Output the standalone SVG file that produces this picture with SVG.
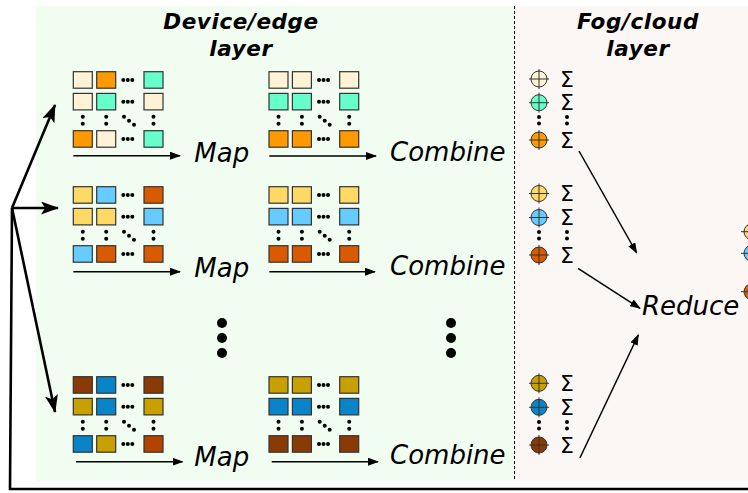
<svg xmlns="http://www.w3.org/2000/svg" xmlns:xlink="http://www.w3.org/1999/xlink" width="748" height="493" viewBox="0 0 748 493">
  <style>
    .title { font-family: "DejaVu Sans", Verdana, sans-serif; font-weight: bold; font-style: italic; font-size: 21.5px; letter-spacing: 0.6px; fill: #000; text-anchor: middle; }
    .op { font-family: "DejaVu Sans", Verdana, sans-serif; font-style: italic; font-size: 26px; fill: #000; }
    .sig { font-family: "DejaVu Sans", Verdana, sans-serif; font-size: 22px; fill: #000; text-anchor: middle; }
    .cell { stroke: #333; stroke-width: 1.2; }
    .cr { fill: #fff2d5; } .or { fill: #ff9900; } .tl { fill: #66ffcc; }
    .ye { fill: #ffd966; } .bl { fill: #66ccff; } .do { fill: #d95a00; }
    .br { fill: #8a3a05; } .db { fill: #0a84c8; } .go { fill: #c8a000; } .ru { fill: #b34400; }
    .thin { stroke: #000; stroke-width: 1.5; fill: none; }
    .thick { stroke: #000; stroke-width: 2.6; fill: none; }
    .cross { stroke: #333; stroke-width: 1; }
    .ring { stroke: #333; stroke-width: 1; }
  </style>
  <defs>
    <marker id="ah" markerUnits="userSpaceOnUse" markerWidth="11" markerHeight="8" refX="10" refY="4" orient="auto">
      <path d="M0,0 L11,4 L0,8 z" fill="#000"/>
    </marker>
    <marker id="ahBig" markerUnits="userSpaceOnUse" markerWidth="18" markerHeight="13" refX="17" refY="6.5" orient="auto">
      <path d="M0,0 L18,6.5 L0,13 L4,6.5 z" fill="#000"/>
    </marker>
    <!-- dot pattern shared by every grid -->
    <g id="gridDots" fill="#000">
      <circle cx="50" cy="8.3" r="2"/><circle cx="54.5" cy="8.3" r="2"/><circle cx="59" cy="8.3" r="2"/>
      <circle cx="50" cy="30" r="2"/><circle cx="54.5" cy="30" r="2"/><circle cx="59" cy="30" r="2"/>
      <circle cx="50" cy="67.3" r="2"/><circle cx="54.5" cy="67.3" r="2"/><circle cx="59" cy="67.3" r="2"/>
      <circle cx="9.5" cy="45" r="2"/><circle cx="9.5" cy="52" r="2"/>
      <circle cx="32.9" cy="45" r="2"/><circle cx="32.9" cy="52" r="2"/>
      <circle cx="80.2" cy="45" r="2"/><circle cx="80.2" cy="52" r="2"/>
      <circle cx="50.7" cy="45" r="2"/><circle cx="55.7" cy="49" r="2"/><circle cx="60.7" cy="53" r="2"/>
    </g>
    <g id="vdots" fill="#000">
      <circle cx="0" cy="0" r="2"/><circle cx="0" cy="6.6" r="2"/>
    </g>
  </defs>

  <!-- layer panels -->
  <rect x="36" y="6" width="478" height="475" fill="#f0fdf0"/>
  <rect x="514" y="6" width="234" height="475" fill="#faf7f4"/>
  <line x1="514.5" y1="6" x2="514.5" y2="481" stroke="#000" stroke-width="1" stroke-dasharray="3,2"/>

  <g id="titles">
    <text class="title" x="241" y="29">Device/edge</text>
    <text class="title" x="241" y="56">layer</text>
    <text class="title" x="638" y="29">Fog/cloud</text>
    <text class="title" x="638" y="56">layer</text>
  </g>

  <!-- device layer: map grids -->
  <g id="map1" transform="translate(73.3,71.7)">
    <rect class="cell cr" x="0" y="0" width="19" height="16.5"/><rect class="cell or" x="23.4" y="0" width="19" height="16.5"/><rect class="cell tl" x="70.7" y="0" width="19" height="16.5"/>
    <rect class="cell cr" x="0" y="21.7" width="19" height="16.5"/><rect class="cell tl" x="23.4" y="21.7" width="19" height="16.5"/><rect class="cell cr" x="70.7" y="21.7" width="19" height="16.5"/>
    <rect class="cell or" x="0" y="59" width="19" height="16.5"/><rect class="cell cr" x="23.4" y="59" width="19" height="16.5"/><rect class="cell tl" x="70.7" y="59" width="19" height="16.5"/>
    <use xlink:href="#gridDots"/>
    <text class="op" x="121" y="90.5">Map</text>
  </g>
  <g id="map2" transform="translate(73.3,186.7)">
    <rect class="cell ye" x="0" y="0" width="19" height="16.5"/><rect class="cell bl" x="23.4" y="0" width="19" height="16.5"/><rect class="cell do" x="70.7" y="0" width="19" height="16.5"/>
    <rect class="cell ye" x="0" y="21.7" width="19" height="16.5"/><rect class="cell ye" x="23.4" y="21.7" width="19" height="16.5"/><rect class="cell bl" x="70.7" y="21.7" width="19" height="16.5"/>
    <rect class="cell bl" x="0" y="59" width="19" height="16.5"/><rect class="cell do" x="23.4" y="59" width="19" height="16.5"/><rect class="cell do" x="70.7" y="59" width="19" height="16.5"/>
    <use xlink:href="#gridDots"/>
    <text class="op" x="121" y="90">Map</text>
  </g>
  <g id="map3" transform="translate(73.3,376.7)">
    <rect class="cell br" x="0" y="0" width="19" height="16.5"/><rect class="cell db" x="23.4" y="0" width="19" height="16.5"/><rect class="cell br" x="70.7" y="0" width="19" height="16.5"/>
    <rect class="cell go" x="0" y="21.7" width="19" height="16.5"/><rect class="cell db" x="23.4" y="21.7" width="19" height="16.5"/><rect class="cell go" x="70.7" y="21.7" width="19" height="16.5"/>
    <rect class="cell db" x="0" y="59" width="19" height="16.5"/><rect class="cell go" x="23.4" y="59" width="19" height="16.5"/><rect class="cell ru" x="70.7" y="59" width="19" height="16.5"/>
    <use xlink:href="#gridDots"/>
    <text class="op" x="121" y="89">Map</text>
  </g>

  <!-- device layer: combine grids -->
  <g id="combine1" transform="translate(269,71.7)">
    <rect class="cell cr" x="0" y="0" width="19" height="16.5"/><rect class="cell cr" x="23.4" y="0" width="19" height="16.5"/><rect class="cell cr" x="70.7" y="0" width="19" height="16.5"/>
    <rect class="cell tl" x="0" y="21.7" width="19" height="16.5"/><rect class="cell tl" x="23.4" y="21.7" width="19" height="16.5"/><rect class="cell tl" x="70.7" y="21.7" width="19" height="16.5"/>
    <rect class="cell or" x="0" y="59" width="19" height="16.5"/><rect class="cell or" x="23.4" y="59" width="19" height="16.5"/><rect class="cell or" x="70.7" y="59" width="19" height="16.5"/>
    <use xlink:href="#gridDots"/>
    <text class="op" x="121" y="89">Combine</text>
  </g>
  <g id="combine2" transform="translate(269,186.7)">
    <rect class="cell ye" x="0" y="0" width="19" height="16.5"/><rect class="cell ye" x="23.4" y="0" width="19" height="16.5"/><rect class="cell ye" x="70.7" y="0" width="19" height="16.5"/>
    <rect class="cell bl" x="0" y="21.7" width="19" height="16.5"/><rect class="cell bl" x="23.4" y="21.7" width="19" height="16.5"/><rect class="cell bl" x="70.7" y="21.7" width="19" height="16.5"/>
    <rect class="cell do" x="0" y="59" width="19" height="16.5"/><rect class="cell do" x="23.4" y="59" width="19" height="16.5"/><rect class="cell do" x="70.7" y="59" width="19" height="16.5"/>
    <use xlink:href="#gridDots"/>
    <text class="op" x="121" y="88">Combine</text>
  </g>
  <g id="combine3" transform="translate(269,376.7)">
    <rect class="cell go" x="0" y="0" width="19" height="16.5"/><rect class="cell go" x="23.4" y="0" width="19" height="16.5"/><rect class="cell go" x="70.7" y="0" width="19" height="16.5"/>
    <rect class="cell db" x="0" y="21.7" width="19" height="16.5"/><rect class="cell db" x="23.4" y="21.7" width="19" height="16.5"/><rect class="cell db" x="70.7" y="21.7" width="19" height="16.5"/>
    <rect class="cell br" x="0" y="59" width="19" height="16.5"/><rect class="cell br" x="23.4" y="59" width="19" height="16.5"/><rect class="cell br" x="70.7" y="59" width="19" height="16.5"/>
    <use xlink:href="#gridDots"/>
    <text class="op" x="121" y="87">Combine</text>
  </g>

  <!-- ellipsis between device rows -->
  <g id="ellipsis" fill="#000">
    <circle cx="222" cy="323" r="5"/><circle cx="222" cy="338" r="5"/><circle cx="222" cy="353" r="5"/>
    <circle cx="451" cy="323" r="5"/><circle cx="451" cy="338" r="5"/><circle cx="451" cy="353" r="5"/>
  </g>

  <!-- fog layer: summation nodes -->
  <g id="sum1">
    <circle class="ring cr" cx="539" cy="79" r="8"/><path class="cross" d="M529,79 H549 M539,69 V89"/>
    <circle class="ring tl" cx="539" cy="102.7" r="8"/><path class="cross" d="M529,102.7 H549 M539,92.7 V112.7"/>
    <circle class="ring or" cx="539" cy="140" r="8"/><path class="cross" d="M529,140 H549 M539,130 V150"/>
    <use xlink:href="#vdots" x="539" y="117"/><use xlink:href="#vdots" x="567" y="117"/>
    <text class="sig" x="567" y="86.5">Σ</text><text class="sig" x="567" y="110">Σ</text><text class="sig" x="567" y="147.5">Σ</text>
  </g>
  <g id="sum2">
    <circle class="ring ye" cx="539" cy="193.5" r="8"/><path class="cross" d="M529,193.5 H549 M539,183.5 V203.5"/>
    <circle class="ring bl" cx="539" cy="217.5" r="8"/><path class="cross" d="M529,217.5 H549 M539,207.5 V227.5"/>
    <circle class="ring do" cx="539" cy="255" r="8"/><path class="cross" d="M529,255 H549 M539,245 V265"/>
    <use xlink:href="#vdots" x="539" y="232"/><use xlink:href="#vdots" x="567" y="232"/>
    <text class="sig" x="567" y="201">Σ</text><text class="sig" x="567" y="225">Σ</text><text class="sig" x="567" y="262.5">Σ</text>
  </g>
  <g id="sum3">
    <circle class="ring go" cx="539" cy="383.3" r="8"/><path class="cross" d="M529,383.3 H549 M539,373.3 V393.3"/>
    <circle class="ring db" cx="539" cy="407.3" r="8"/><path class="cross" d="M529,407.3 H549 M539,397.3 V417.3"/>
    <circle class="ring br" cx="539" cy="445" r="8"/><path class="cross" d="M529,445 H549 M539,435 V455"/>
    <use xlink:href="#vdots" x="539" y="422"/><use xlink:href="#vdots" x="567" y="422"/>
    <text class="sig" x="567" y="391">Σ</text><text class="sig" x="567" y="415">Σ</text><text class="sig" x="567" y="452.5">Σ</text>
  </g>

  <g id="reduce">
    <text class="op" x="642" y="315">Reduce</text>
  </g>

  <!-- reduced output, continuing past the right edge -->
  <g id="output">
    <circle class="ring ye" cx="752" cy="231.7" r="8"/><path class="cross" d="M741,231.7 H760"/>
    <circle class="ring bl" cx="752" cy="253.3" r="8"/><path class="cross" d="M741,253.3 H760"/>
    <circle class="ring do" cx="752" cy="291.7" r="8"/><path class="cross" d="M741,291.7 H760"/>
  </g>

  <g id="connectors">
    <!-- map / combine progress arrows -->
    <line class="thin" x1="73.3" y1="155.7" x2="180" y2="155.7" marker-end="url(#ah)"/>
    <line class="thin" x1="73.3" y1="271.7" x2="180" y2="271.7" marker-end="url(#ah)"/>
    <line class="thin" x1="76" y1="461.7" x2="182.5" y2="461.7" marker-end="url(#ah)"/>
    <line class="thin" x1="269.3" y1="156" x2="376" y2="156" marker-end="url(#ah)"/>
    <line class="thin" x1="269.3" y1="271.7" x2="375" y2="271.7" marker-end="url(#ah)"/>
    <line class="thin" x1="271.7" y1="461.7" x2="378" y2="461.7" marker-end="url(#ah)"/>
    <!-- partial sums to reduce -->
    <line class="thin" x1="579" y1="151" x2="636.7" y2="253" marker-end="url(#ah)"/>
    <line class="thin" x1="578" y1="268.3" x2="640" y2="308.3" marker-end="url(#ah)"/>
    <line class="thin" x1="580" y1="457.7" x2="638.3" y2="335" marker-end="url(#ah)"/>
    <!-- feedback loop to the devices -->
    <path class="thick" d="M748,489 H10 L12,208"/>
    <line class="thick" x1="12" y1="208" x2="55" y2="105" marker-end="url(#ahBig)"/>
    <line class="thick" x1="12" y1="208" x2="58" y2="208" marker-end="url(#ahBig)"/>
    <line class="thick" x1="12" y1="208" x2="55" y2="412" marker-end="url(#ahBig)"/>
  </g>
</svg>
